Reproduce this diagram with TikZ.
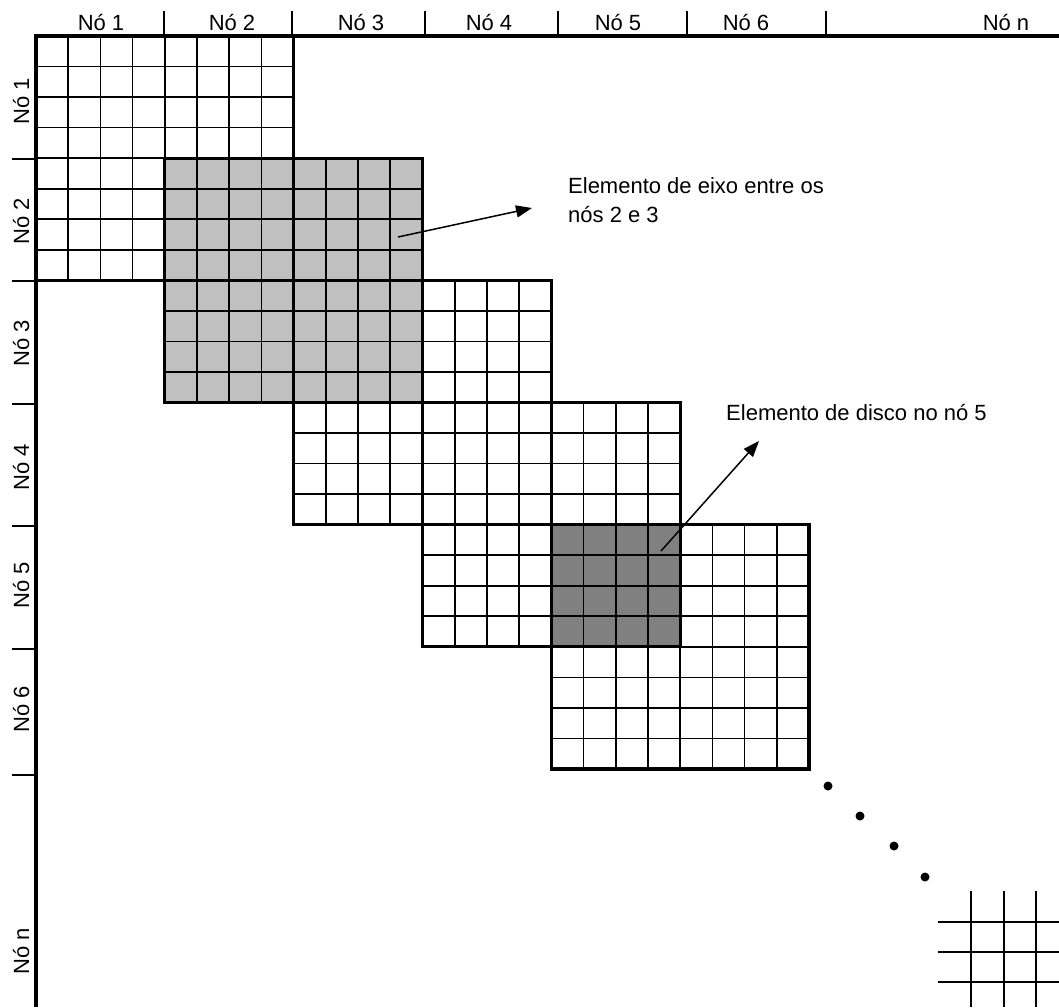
\documentclass[tikz,border=0pt]{standalone}
\usepackage{fontspec}
\setmainfont{Liberation Sans}
\usetikzlibrary{arrows.meta}
\definecolor{lightgrey}{HTML}{C0C0C0}
\definecolor{darkgrey}{HTML}{808080}
\begin{document}
\begin{tikzpicture}[x=1pt,y=-1pt,
  thinline/.style={line width=1.7pt},
  thickline/.style={line width=3.2pt},
  lbl/.style={font=\fontsize{22}{29}\selectfont, inner sep=0pt},
  pointer/.style={line width=1.5pt, -{Triangle[length=16pt,width=12pt]}},
  dotmark/.style={fill=black}
  ]
\useasboundingbox (0,0) rectangle (1059,1007);
\fill[white] (0,0) rectangle (1059,1007);
\def\cw{32.2083}\def\ch{30.5417}
% shaded elements
\fill[lightgrey] ({36+4*\cw},{36+4*\ch}) rectangle ({36+12*\cw},{36+12*\ch});
\fill[darkgrey] ({36+16*\cw},{36+16*\ch}) rectangle ({36+20*\cw},{36+20*\ch});
% cell grids
\foreach \b in {0,...,4}{
  \pgfmathsetmacro\xa{36+4*\b*\cw}
  \pgfmathsetmacro\ya{36+4*\b*\ch}
  \pgfmathsetmacro\xb{\xa+8*\cw}
  \pgfmathsetmacro\yb{\ya+8*\ch}
  \foreach \j in {1,...,7}{
    \draw[thinline] ({\xa+\j*\cw},\ya) -- ({\xa+\j*\cw},\yb);
    \draw[thinline] (\xa,{\ya+\j*\ch}) -- (\xb,{\ya+\j*\ch});
  }
}
% block outlines
\foreach \b in {0,...,4}{
  \pgfmathsetmacro\xa{36+4*\b*\cw}
  \pgfmathsetmacro\ya{36+4*\b*\ch}
  \draw[thickline] (\xa,\ya) rectangle ({\xa+8*\cw},{\ya+8*\ch});
}
% axes
\draw[thickline] (1059,36) -- (36,36) -- (36,1007);
\foreach \x in {164,292,425,558,687,826}
  \draw[thinline] (\x,11) -- (\x,36);
\foreach \y in {159,281,404,526,649,775}
  \draw[thinline] (12,\y) -- (36,\y);
% top labels
\node[lbl, anchor=base] (t1) at (101,30) {Nó 1};
\node[lbl, anchor=base] (t2) at (232,30) {Nó 2};
\node[lbl, anchor=base] (t3) at (361,30) {Nó 3};
\node[lbl, anchor=base] (t4) at (489,30) {Nó 4};
\node[lbl, anchor=base] (t5) at (618,30) {Nó 5};
\node[lbl, anchor=base] (t6) at (746,30) {Nó 6};
\node[lbl, anchor=base] (tn) at (1006,30) {Nó n};
% left labels
\node[lbl, anchor=base, rotate=90] (l1) at (29,101) {Nó 1};
\node[lbl, anchor=base, rotate=90] (l2) at (29,221) {Nó 2};
\node[lbl, anchor=base, rotate=90] (l3) at (29,343) {Nó 3};
\node[lbl, anchor=base, rotate=90] (l4) at (29,467) {Nó 4};
\node[lbl, anchor=base, rotate=90] (l5) at (29,585) {Nó 5};
\node[lbl, anchor=base, rotate=90] (l6) at (29,709) {Nó 6};
\node[lbl, anchor=base, rotate=90] (ln) at (29,951) {Nó n};
% block n (partial)
\foreach \x in {971,1004,1036}
  \draw[thinline] (\x,891) -- (\x,1007);
\foreach \y in {922,952,982}
  \draw[thinline] (938,\y) -- (1059,\y);
% continuation dots
\fill[dotmark] (828,786) circle (4.5);
\fill[dotmark] (860,816) circle (4.5);
\fill[dotmark] (894,846) circle (4.5);
\fill[dotmark] (925,877) circle (4.5);
% annotations
\node[lbl, anchor=west, align=left] (eixo) at (568,200) {Elemento de eixo entre os\\nós 2 e 3};
\node[lbl, anchor=base west] (disco) at (726,420) {Elemento de disco no nó 5};
\coordinate (a1s) at (398,237);
\coordinate (a1e) at (532,208);
\coordinate (a2s) at (661,551);
\coordinate (a2e) at (759,441);
\draw[pointer] (a1s) -- (a1e);
\draw[pointer] (a2s) -- (a2e);
\end{tikzpicture}
\end{document}
